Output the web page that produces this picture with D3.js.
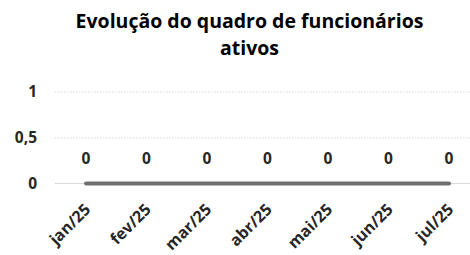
<!DOCTYPE html>
<html><head><meta charset="utf-8">
<script src="https://cdn.jsdelivr.net/npm/d3@7"></script>
<style>body{margin:0;background:#fff}svg{display:block}text{font-family:"Open Sans",sans-serif;font-weight:bold}</style>
</head><body>
<script>
const categories = ["jan/25","fev/25","mar/25","abr/25","mai/25","jun/25","jul/25"];
const values = [0,0,0,0,0,0,0];
const yTicks = [0,0.5,1];
const yTickLabels = ["0","0,5","1"];
const titleLines = ["Evolução do quadro de funcionários","ativos"];

const W=470,H=255;
const svg=d3.select("body").append("svg").attr("width",W).attr("height",H);
const x=d3.scalePoint().domain(categories).range([86,449]);
const y=d3.scaleLinear().domain([0,1]).range([183.5,91.5]);
const left=55,right=470;

svg.append("g").selectAll("line").data(yTicks.filter(d=>d>0)).join("line")
  .attr("x1",left).attr("x2",right).attr("y1",d=>y(d)+0.5).attr("y2",d=>y(d)+0.5)
  .attr("stroke","#d9d9d9").attr("stroke-width",1).attr("stroke-dasharray","1.5,1.5");
svg.append("line").attr("x1",left).attr("x2",right).attr("y1",y(0)).attr("y2",y(0))
  .attr("stroke","#d9d9d9").attr("stroke-width",1);

const yAxis=d3.axisLeft(y).tickValues(yTicks).tickFormat((d,i)=>yTickLabels[i]).tickSize(0).tickPadding(0);
const gy=svg.append("g").attr("transform","translate(37,0)").call(yAxis);
gy.select(".domain").remove();
gy.selectAll("text").attr("fill","#262626").style("font-size","15.5px").style("font-family","'Open Sans',sans-serif");

const xAxis=d3.axisBottom(x).tickSize(0).tickPadding(0);
const gx=svg.append("g").attr("transform",`translate(0,${y(0)})`).call(xAxis);
gx.select(".domain").remove();
gx.selectAll("text").attr("fill","#262626").style("font-size","16px").style("font-family","'Open Sans',sans-serif")
  .attr("text-anchor","end").attr("dy",0).attr("y",0)
  .attr("transform","translate(5,27) rotate(-45)");

svg.append("path").datum(values)
  .attr("d",d3.line().x((d,i)=>x(categories[i])).y(d=>y(d)))
  .attr("fill","none").attr("stroke","#707070").attr("stroke-width",4).attr("stroke-linecap","round");

svg.append("g").selectAll("text").data(values).join("text")
  .attr("x",(d,i)=>x(categories[i])).attr("y",d=>y(d)-20)
  .attr("text-anchor","middle").attr("fill","#262626").style("font-size","15.5px").text(d=>d);

svg.append("text").attr("x",249.5).attr("y",28).attr("text-anchor","middle").attr("fill","#000").style("font-size","19.5px").text(titleLines[0]);
svg.append("text").attr("x",249.5).attr("y",55).attr("text-anchor","middle").attr("fill","#000").style("font-size","19.5px").text(titleLines[1]);
</script>
</body></html>
